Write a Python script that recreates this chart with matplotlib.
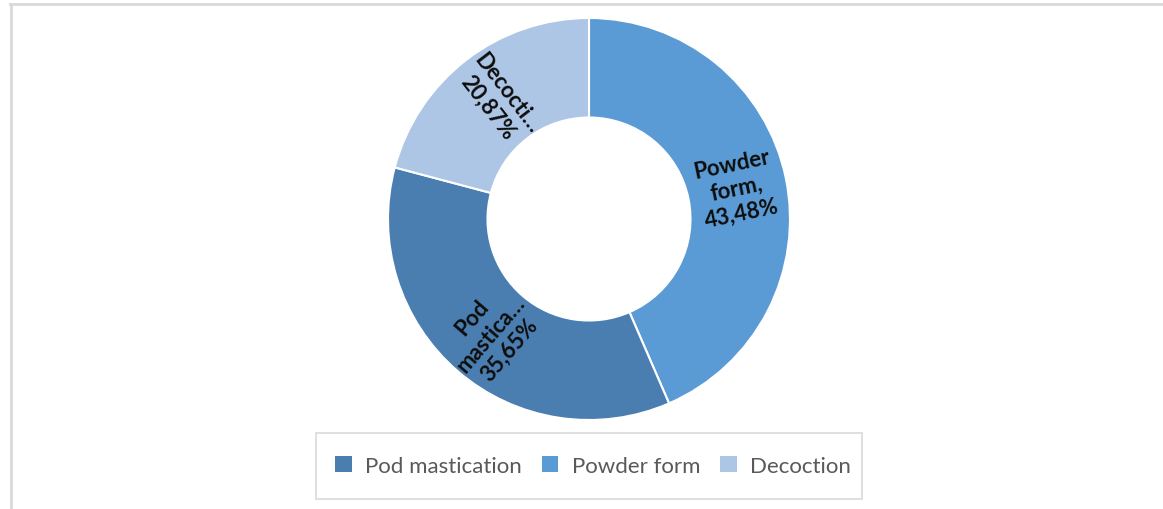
import numpy as np
import matplotlib
matplotlib.use("Agg")
import matplotlib.pyplot as plt
from matplotlib.lines import Line2D
from matplotlib.patches import Rectangle, Patch

plt.rcParams['font.family'] = ['Lato', 'DejaVu Sans']

# share of preparation methods (%)
categories = ["Pod mastication", "Powder form", "Decoction"]
shares = [35.65, 43.48, 20.87]
short_names = ["Pod\nmastica…", "Powder\nform", "Decocti…"]
colors = ["#4a7eb1", "#5b9bd5", "#adc6e6"]

# wedges go clockwise from 12 o'clock starting with powder form
draw_order = [1, 0, 2]

W, H = 1163, 510
fig = plt.figure(figsize=(W / 100, H / 100), dpi=100)

cx, cy, R = 589, 220, 201
ax = fig.add_axes([(cx - R) / W, (H - cy - R) / H, 2 * R / W, 2 * R / H])

vals = [shares[i] for i in draw_order]
cols = [colors[i] for i in draw_order]
wedges, _ = ax.pie(vals, colors=cols, startangle=90, counterclock=False,
                   radius=1.0,
                   wedgeprops=dict(width=0.495, edgecolor="white", linewidth=1.5))
ax.set_xlim(-1.0, 1.0)
ax.set_ylim(-1.0, 1.0)
ax.set_aspect("equal")
ax.axis("off")

# data labels written along the radius of each wedge
for w, i in zip(wedges, draw_order):
    mid = (w.theta1 + w.theta2) / 2.0
    mid = (mid + 180) % 360 - 180
    rot = mid
    if rot > 90:
        rot -= 180
    elif rot < -90:
        rot += 180
    r = 0.75
    x = r * np.cos(np.radians(mid))
    y = r * np.sin(np.radians(mid))
    pct = f"{shares[i]:.2f}".replace(".", ",") + "%"
    if i == 1:
        txt = short_names[i] + ",\n" + pct
    else:
        txt = short_names[i] + "\n" + pct
    ax.text(x, y, txt, ha="center", va="center", rotation=rot,
            rotation_mode="anchor", fontsize=16, fontweight="bold",
            color="#0d0d0d", linespacing=1.22, multialignment="center")

# outer frame of the chart area
fig.add_artist(Line2D([10 / W, 1.0], [1 - 5 / H, 1 - 5 / H], color="#d9d9d9", lw=2))
fig.add_artist(Line2D([11 / W, 11 / W], [0, 1 - 5 / H], color="#d9d9d9", lw=2))

# legend box
fig.add_artist(Rectangle((316 / W, (H - 500) / H), 546 / W, 66 / H,
                         transform=fig.transFigure, fill=False,
                         edgecolor="#d9d9d9", lw=1.2))
handles = [Patch(facecolor=c, edgecolor="none") for c in colors]
fig.legend(handles, categories, loc="center", bbox_to_anchor=(593 / W, (H - 467) / H),
           ncol=3, frameon=False, fontsize=16, labelcolor="#595959",
           handlelength=0.75, handleheight=0.75, handletextpad=0.6,
           columnspacing=0.9)

fig.savefig("out.png", dpi=100)
